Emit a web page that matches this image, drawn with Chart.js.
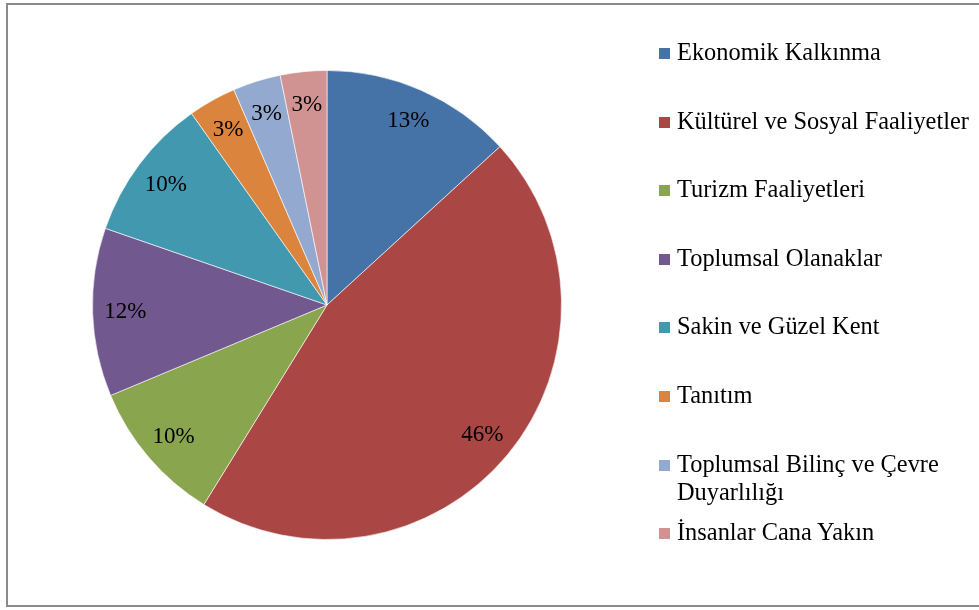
<!DOCTYPE html>
<html>
<head>
<meta charset="utf-8">
<script src="https://cdn.jsdelivr.net/npm/chart.js@4/dist/chart.umd.min.js"></script>
<style>
    body { margin: 0; background: #fff; }
    #wrap { position: relative; width: 979px; height: 610px; overflow: hidden; }
    #frame {
        position: absolute; left: 6px; top: 3px; width: 990px; height: 600px;
        border: 2px solid #8a8a8a; border-right: none;
    }
    #mainChart { position: absolute; left: 0; top: 0; }
    #legend {
        position: absolute; left: 659px; top: 0; width: 320px;
        font-family: "Liberation Serif", "Times New Roman", serif; font-size: 24.4px; color: #000;
    }
    .item { position: absolute; left: 0; width: 330px; line-height: 28px; }
    .box { position: absolute; left: 0; top: 10px; width: 11px; height: 11px; }
    .txt { margin-left: 18px; width: 305px; }
</style>
</head>
<body>
<div id="wrap">
    <div id="frame"></div>
    <canvas id="mainChart" width="979" height="610"></canvas>
    <div id="legend"></div>
</div>
<script>
const categories = [
    'Ekonomik Kalkınma',
    'Kültürel ve Sosyal Faaliyetler',
    'Turizm Faaliyetleri',
    'Toplumsal Olanaklar',
    'Sakin ve Güzel Kent',
    'Tanıtım',
    'Toplumsal Bilinç ve Çevre Duyarlılığı',
    'İnsanlar Cana Yakın'
]
const shares = [13.2, 45.6, 9.9, 11.6, 9.9, 3.3, 3.3, 3.2]
const colors = ['#4572A7', '#AA4643', '#89A54E', '#71588F', '#4198AF', '#DB843D', '#93A9CF', '#D19392']

const pctLabels = {
    id: 'pctLabels',
    afterDatasetsDraw(chart) {
        const ctx = chart.ctx
        const meta = chart.getDatasetMeta(0)
        const values = chart.data.datasets[0].data
        const total = values.reduce((a, b) => a + b, 0)
        ctx.save()
        ctx.font = '23px "Liberation Serif", "Times New Roman", serif'
        ctx.fillStyle = '#000'
        ctx.textAlign = 'center'
        ctx.textBaseline = 'middle'
        meta.data.forEach((arc, i) => {
            const p = arc.getProps(['x', 'y', 'startAngle', 'endAngle', 'outerRadius'], true)
            const mid = (p.startAngle + p.endAngle) / 2
            const r = p.outerRadius * 0.86
            const pct = Math.round(values[i] / total * 100) + '%'
            ctx.fillText(pct, p.x + Math.cos(mid) * r, p.y + Math.sin(mid) * r + 1)
        })
        ctx.restore()
    }
}

function setupCanvas() {
    const ctx = document.getElementById('mainChart').getContext('2d')
    const config = {
        type: 'pie',
        data: {
            labels: categories,
            datasets: [{
                data: shares,
                backgroundColor: colors,
                borderColor: 'rgba(255,255,255,0.6)',
                borderWidth: 1
            }]
        },
        options: {
            responsive: false,
            animation: false,
            layout: { padding: { left: 92, right: 417, top: 70, bottom: 70 } },
            plugins: {
                legend: { display: false },
                tooltip: { enabled: false }
            }
        },
        plugins: [pctLabels]
    }
    return new Chart(ctx, config)
}

function buildLegend(chart) {
    const legend = document.getElementById('legend')
    const firstTop = 38
    const pitch = 68.6
    chart.data.labels.forEach((label, i) => {
        const item = document.createElement('div')
        item.className = 'item'
        item.style.top = (firstTop + i * pitch) + 'px'
        const box = document.createElement('div')
        box.className = 'box'
        box.style.background = chart.data.datasets[0].backgroundColor[i]
        const txt = document.createElement('div')
        txt.className = 'txt'
        txt.textContent = label
        item.appendChild(box)
        item.appendChild(txt)
        legend.appendChild(item)
    })
}

const mainChart = setupCanvas()
buildLegend(mainChart)
</script>
</body>
</html>
